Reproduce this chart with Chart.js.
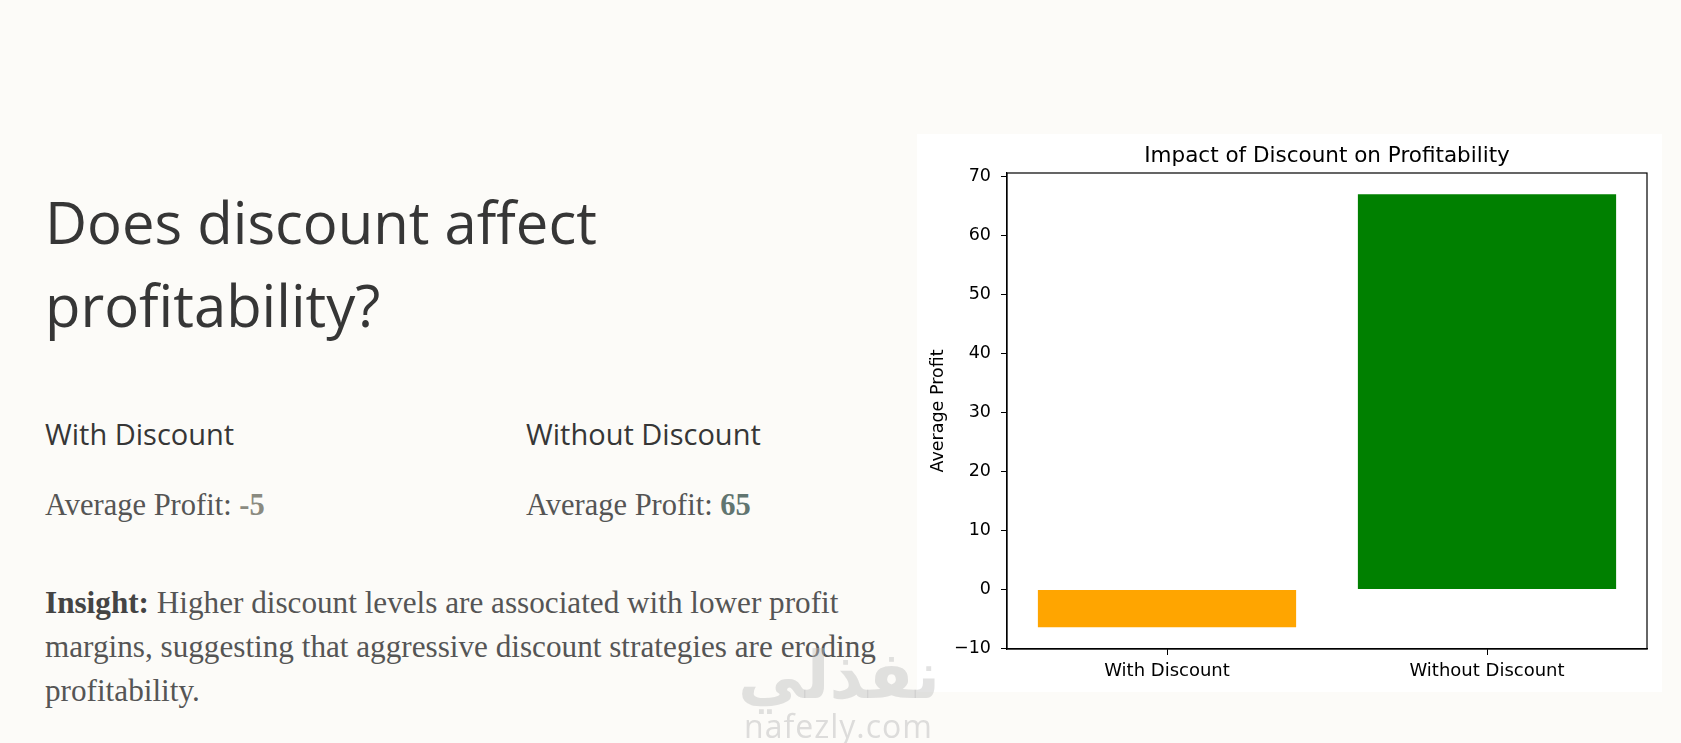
<!DOCTYPE html>
<html>
<head>
<meta charset="utf-8">
<script src="https://cdn.jsdelivr.net/npm/chart.js@4"></script>
<style>
  html, body { margin: 0; padding: 0; }
  body { width: 1681px; height: 743px; background: #fcfbf8; position: relative; overflow: hidden; }
  .abs { position: absolute; white-space: nowrap; }
  .head { font-family: "Open Sans", sans-serif; color: #363636; }
  .serif { font-family: "Liberation Serif", serif; color: #555; }
  #title { left: 45px; top: 180px; font-size: 58px; line-height: 83px; }
  .sub { font-size: 29px; line-height: 40px; top: 414px; }
  .avg { font-size: 30.5px; line-height: 44px; top: 483px; }
  #insight { left: 45px; top: 581px; font-size: 31.2px; line-height: 44px; }
  #insight b { color: #444; }
  #box { left: 917px; top: 134px; width: 745px; height: 558px; background: #fff; }
  #wm1 { left: 738px; top: 643px; font-family: "DejaVu Sans", sans-serif; font-weight: bold; font-size: 66px; line-height: 66px; color: rgba(190,190,190,0.45); }
  #wm2 { left: 744px; top: 704px; font-family: "Open Sans", sans-serif; font-size: 32px; color: rgba(190,190,190,0.5); letter-spacing: 1px; }
</style>
</head>
<body>
<div class="abs head" id="title">Does discount affect<br>profitability?</div>
<div class="abs head sub" style="left:45px">With Discount</div>
<div class="abs head sub" style="left:526px">Without Discount</div>
<div class="abs serif avg" style="left:45px">Average Profit: <b style="color:#8a8a80">-5</b></div>
<div class="abs serif avg" style="left:526px">Average Profit: <b style="color:#617570">65</b></div>
<div class="abs serif" id="insight"><b>Insight:</b> Higher discount levels are associated with lower profit<br>margins, suggesting that aggressive discount strategies are eroding<br>profitability.</div>
<div class="abs" id="box"><canvas id="chart"></canvas></div>
<div class="abs" id="wm1">نفذلي</div>
<div class="abs" id="wm2">nafezly.com</div>
<script>
'use strict';

const categories = ['With Discount', 'Without Discount'];
const avgProfit = [-6.4, 67.0];
const barColors = ['#FFA500', '#008000'];
const yTicks = [-10, 0, 10, 20, 30, 40, 50, 60, 70];

let canvasElem = document.getElementById('chart');

// draws the matplotlib style box round the plot area
const frame = {
    id: 'frame',
    afterDatasetsDraw(chart) {
        let a = chart.chartArea;
        let ctx = chart.ctx;
        ctx.save();
        ctx.strokeStyle = '#000';
        ctx.lineWidth = 1.2;
        ctx.strokeRect(a.left, a.top, a.right - a.left, a.bottom - a.top);
        ctx.restore();
    }
};

function renderChart() {
    Chart.defaults.font.family = '"DejaVu Sans", sans-serif';
    Chart.defaults.color = '#000';

    let chartObj = {
        type: 'bar',
        data: {
            labels: categories,
            datasets: [{
                data: avgProfit,
                backgroundColor: barColors,
                borderWidth: 0,
                barPercentage: 0.807,
                categoryPercentage: 1.0
            }]
        },
        options: {
            responsive: true,
            maintainAspectRatio: false,
            animation: false,
            layout: {padding: {left: 0, right: 15, top: 0, bottom: 0}},
            scales: {
                x: {
                    afterFit(scale) { scale.height = 43; },
                    ticks: {font: {size: 18}, padding: 6, maxRotation: 0},
                    grid: {offset: false, drawOnChartArea: false, drawTicks: true, tickLength: 6, color: '#000'},
                    border: {display: true, color: '#000', width: 1.2}
                },
                y: {
                    min: -10.1,
                    max: 70.6,
                    afterBuildTicks(scale) {
                        scale.ticks = yTicks.map(v => ({value: v}));
                    },
                    afterFit(scale) { scale.width = 90; },
                    ticks: {
                        font: {size: 17.5},
                        padding: 10,
                        callback: (v) => String(v).replace('-', '\u2212')
                    },
                    grid: {drawOnChartArea: false, drawTicks: true, tickLength: 6, color: '#000'},
                    border: {display: true, color: '#000', width: 1.2},
                    title: {
                        display: true,
                        text: 'Average Profit',
                        font: {size: 17.5},
                        padding: {top: 10.5, bottom: 0}
                    }
                }
            },
            plugins: {
                legend: {display: false},
                tooltip: {enabled: false},
                title: {
                    display: true,
                    fullSize: false,
                    text: 'Impact of Discount on Profitability',
                    font: {size: 21.5, weight: 'normal'},
                    color: '#000',
                    padding: {top: 9.5, bottom: 3.7}
                }
            }
        },
        plugins: [frame]
    };
    new Chart(canvasElem, chartObj);
}

renderChart();
</script>
</body>
</html>
